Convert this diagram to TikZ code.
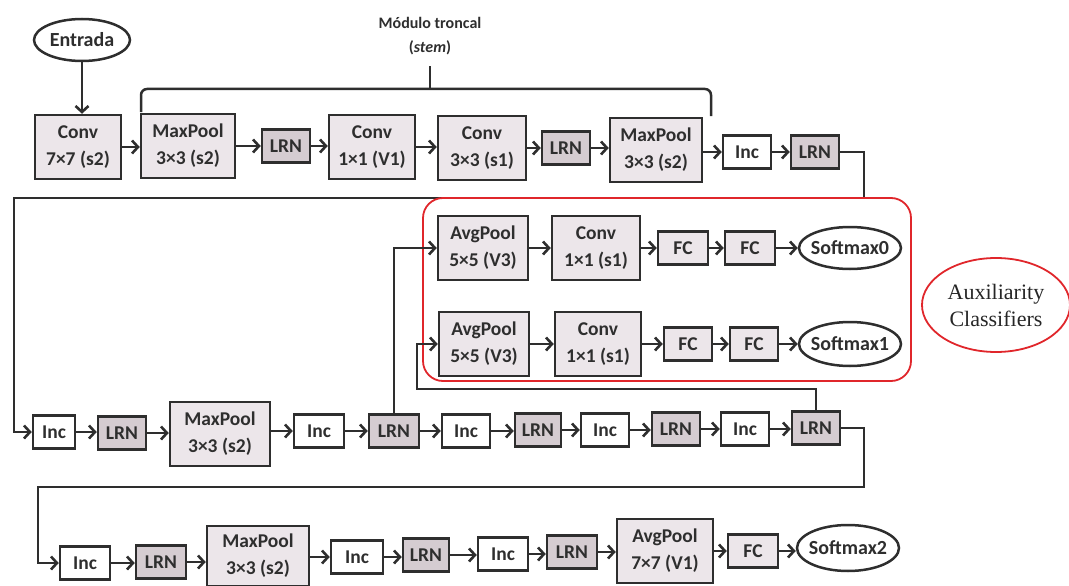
\documentclass[tikz,border=0pt]{standalone}
\usepackage{fontspec}
\setmainfont{Carlito}
\newfontfamily\serifaux{Liberation Serif}
\usetikzlibrary{arrows.meta,shapes.geometric}
\definecolor{ln}{HTML}{2E2E2E}
\definecolor{bfill}{HTML}{ECE6EA}
\definecolor{lfill}{HTML}{D5CCD1}
\definecolor{redc}{HTML}{E0262B}
\begin{document}
\begin{tikzpicture}[x=1pt,y=-1pt,
  every node/.style={text=ln},
  bigbox/.style={draw=ln, line width=2.5pt, fill=bfill, minimum height=64pt, inner sep=0pt, align=center, font=\fontsize{19.5}{27}\selectfont\bfseries},
  smallbox/.style={draw=ln, line width=2.5pt, fill=bfill, minimum height=33pt, minimum width=48pt, inner sep=0pt, font=\fontsize{19.5}{20}\selectfont\bfseries},
  lrnbox/.style={smallbox, fill=lfill},
  incbox/.style={smallbox, fill=white},
  ellnode/.style={ellipse, draw=ln, line width=2.5pt, fill=white, inner xsep=-14pt, inner ysep=0pt, font=\fontsize{20}{22}\selectfont\bfseries},
  arr/.style={draw=ln, line width=2.6pt, -{Straight Barb[length=6pt,width=13pt]}},
  wire/.style={draw=ln, line width=2.5pt}
]
\useasboundingbox (0,0) rectangle (1069,586);

% ---------- Row 1 ----------
\node[ellnode, minimum width=96pt, minimum height=42pt] (ent) at (82,40) {Entrada};
\node[bigbox, minimum width=86pt] (conv1) at (78,147) {Conv\\7×7 (s2)};
\node[bigbox, minimum width=94pt] (mp1) at (188,146) {MaxPool\\3×3 (s2)};
\node[lrnbox] (lrn1) at (286,146) {LRN};
\node[bigbox, minimum width=86pt] (conv2) at (372,147) {Conv\\1×1 (V1)};
\node[bigbox, minimum width=88pt] (conv3) at (482,148) {Conv\\3×3 (s1)};
\node[lrnbox] (lrn2) at (566,148) {LRN};
\node[bigbox, minimum width=92pt] (mp2) at (656,150) {MaxPool\\3×3 (s2)};
\node[incbox] (inc1) at (747,152) {Inc};
\node[lrnbox] (lrn3) at (815,152) {LRN};

\draw[arr] (ent.south) -- (ent.south |- conv1.north);
\draw[arr] (conv1.east) -- (mp1.west |- conv1.east);
\draw[arr] (mp1.east |- lrn1) -- (lrn1);
\draw[arr] (lrn1) -- (conv2.west |- lrn1);
\draw[arr] (conv2.east) -- (conv3.west |- conv2.east);
\draw[arr] (conv3.east |- lrn2) -- (lrn2);
\draw[arr] (lrn2) -- (mp2.west |- lrn2);
\draw[arr] (mp2.east |- inc1) -- (inc1);
\draw[arr] (inc1) -- (lrn3);

% bracket (stem)
\coordinate (bl) at (141,112);
\coordinate (br) at (711,116);
\coordinate (bm) at (430,89);
\coordinate (bt) at (430,66);
\draw[wire, rounded corners=6pt] (bl) -- (141,89) -- (711,89) -- (br);
\draw[wire] (bm) -- (bt);
\node[align=center, font=\fontsize{16}{24}\selectfont\bfseries] (stem) at (430,36) {Módulo troncal\\(\textit{stem})};

% ---------- Row 2 ----------
\node[incbox, minimum width=42pt] (inc2) at (54,432) {Inc};
\node[lrnbox] (lrn4) at (122,433) {LRN};
\node[bigbox, minimum width=100pt] (mp3) at (220,434) {MaxPool\\3×3 (s2)};
\node[incbox, minimum width=50pt] (inc3) at (319,431) {Inc};
\node[lrnbox, minimum width=50pt] (lrn5) at (394,431) {LRN};
\node[incbox] (inc4) at (466,431) {Inc};
\node[lrnbox, minimum width=46pt] (lrn6) at (538,430) {LRN};
\node[incbox] (inc5) at (605,430) {Inc};
\node[lrnbox] (lrn7) at (676,429) {LRN};
\node[incbox] (inc6) at (745,429) {Inc};
\node[lrnbox] (lrn8) at (816,428) {LRN};

\coordinate (r1a) at (864,198);
\coordinate (r1b) at (14,198);
\draw[arr] (lrn3.east) -| (r1a) -- (r1b) |- (inc2.west);

\draw[arr] (inc2) -- (lrn4.west |- inc2);
\draw[arr] (lrn4) -- (mp3.west |- lrn4);
\draw[arr] (mp3.east |- inc3) -- (inc3);
\draw[arr] (inc3) -- (lrn5);
\draw[arr] (lrn5) -- (inc4);
\draw[arr] (inc4) -- (lrn6.west |- inc4);
\draw[arr] (lrn6) -- (inc5);
\draw[arr] (inc5) -- (lrn7.west |- inc5);
\draw[arr] (lrn7) -- (inc6);
\draw[arr] (inc6) -- (lrn8.west |- inc6);

% ---------- Auxiliary classifiers ----------
\draw[redc, line width=1.8pt, rounded corners=20pt] (423,198) rectangle (911,381);

\node[bigbox, minimum width=90pt] (ap1) at (483,248) {AvgPool\\5×5 (V3)};
\node[bigbox, minimum width=88pt] (c5) at (596,248) {Conv\\1×1 (s1)};
\node[smallbox, minimum width=50pt] (fc1) at (683,248) {FC};
\node[smallbox, minimum width=50pt] (fc2) at (750,248) {FC};
\node[ellnode, minimum width=102pt, minimum height=42pt] (sm0) at (850,248) {Softmax0};

\node[bigbox, minimum width=90pt] (ap2) at (484,344) {AvgPool\\5×5 (V3)};
\node[bigbox, minimum width=86pt] (c6) at (598,344) {Conv\\1×1 (s1)};
\node[smallbox] (fc3) at (688,344) {FC};
\node[smallbox] (fc4) at (754,344) {FC};
\node[ellnode, minimum width=102pt, minimum height=44pt] (sm1) at (850,344) {Softmax1};

\draw[arr] (ap1) -- (c5);
\draw[arr] (c5) -- (fc1);
\draw[arr] (fc1) -- (fc2);
\draw[arr] (fc2) -- (sm0);
\draw[arr] (ap2) -- (c6);
\draw[arr] (c6) -- (fc3);
\draw[arr] (fc3) -- (fc4);
\draw[arr] (fc4) -- (sm1);

\draw[arr] (lrn5.north) |- (ap1.west);
\coordinate (b2) at (417,389);
\draw[arr] (lrn8.north) |- (b2) |- (ap2.west);

\node[ellipse, draw=redc, line width=1.8pt, minimum width=148pt, minimum height=94pt, inner xsep=-20pt, inner ysep=-10pt, align=center, text=black!85, font=\serifaux\fontsize{22}{27}\selectfont] (aux) at (996,305) {Auxiliarity\\Classifiers};

% ---------- Row 3 ----------
\node[incbox, minimum width=50pt] (inc7) at (85,563) {Inc};
\node[lrnbox, minimum width=50pt] (lrn9) at (161,562) {LRN};
\node[bigbox, minimum width=102pt, minimum height=60pt] (mp4) at (258,556) {MaxPool\\3×3 (s2)};
\node[incbox, minimum width=52pt] (inc8) at (357,557) {Inc};
\node[lrnbox, minimum width=46pt] (lrn10) at (426,555) {LRN};
\node[incbox, minimum width=50pt] (inc9) at (503,554) {Inc};
\node[lrnbox, minimum width=50pt] (lrn11) at (572,552) {LRN};
\node[bigbox, minimum width=96pt] (ap3) at (665,551) {AvgPool\\7×7 (V1)};
\node[smallbox, minimum width=50pt] (fc5) at (753,551) {FC};
\node[ellnode, minimum width=102pt, minimum height=46pt] (sm2) at (848,548) {Softmax2};

\coordinate (r2a) at (864,487);
\coordinate (r2b) at (38,487);
\draw[arr] (lrn8.east) -| (r2a) -- (r2b) |- (inc7.west);

\draw[arr] (inc7) -- (lrn9.west |- inc7);
\draw[arr] (lrn9) -- (mp4.west |- lrn9);
\draw[arr] (mp4.east |- inc8) -- (inc8);
\draw[arr] (inc8) -- (lrn10.west |- inc8);
\draw[arr] (lrn10) -- (inc9.west |- lrn10);
\draw[arr] (inc9) -- (lrn11.west |- inc9);
\draw[arr] (lrn11.east) -- (ap3.west |- lrn11.east);
\draw[arr] (ap3.east |- fc5) -- (fc5);
\draw[arr] (fc5.east) -- (sm2.west |- fc5.east);
\end{tikzpicture}
\end{document}
